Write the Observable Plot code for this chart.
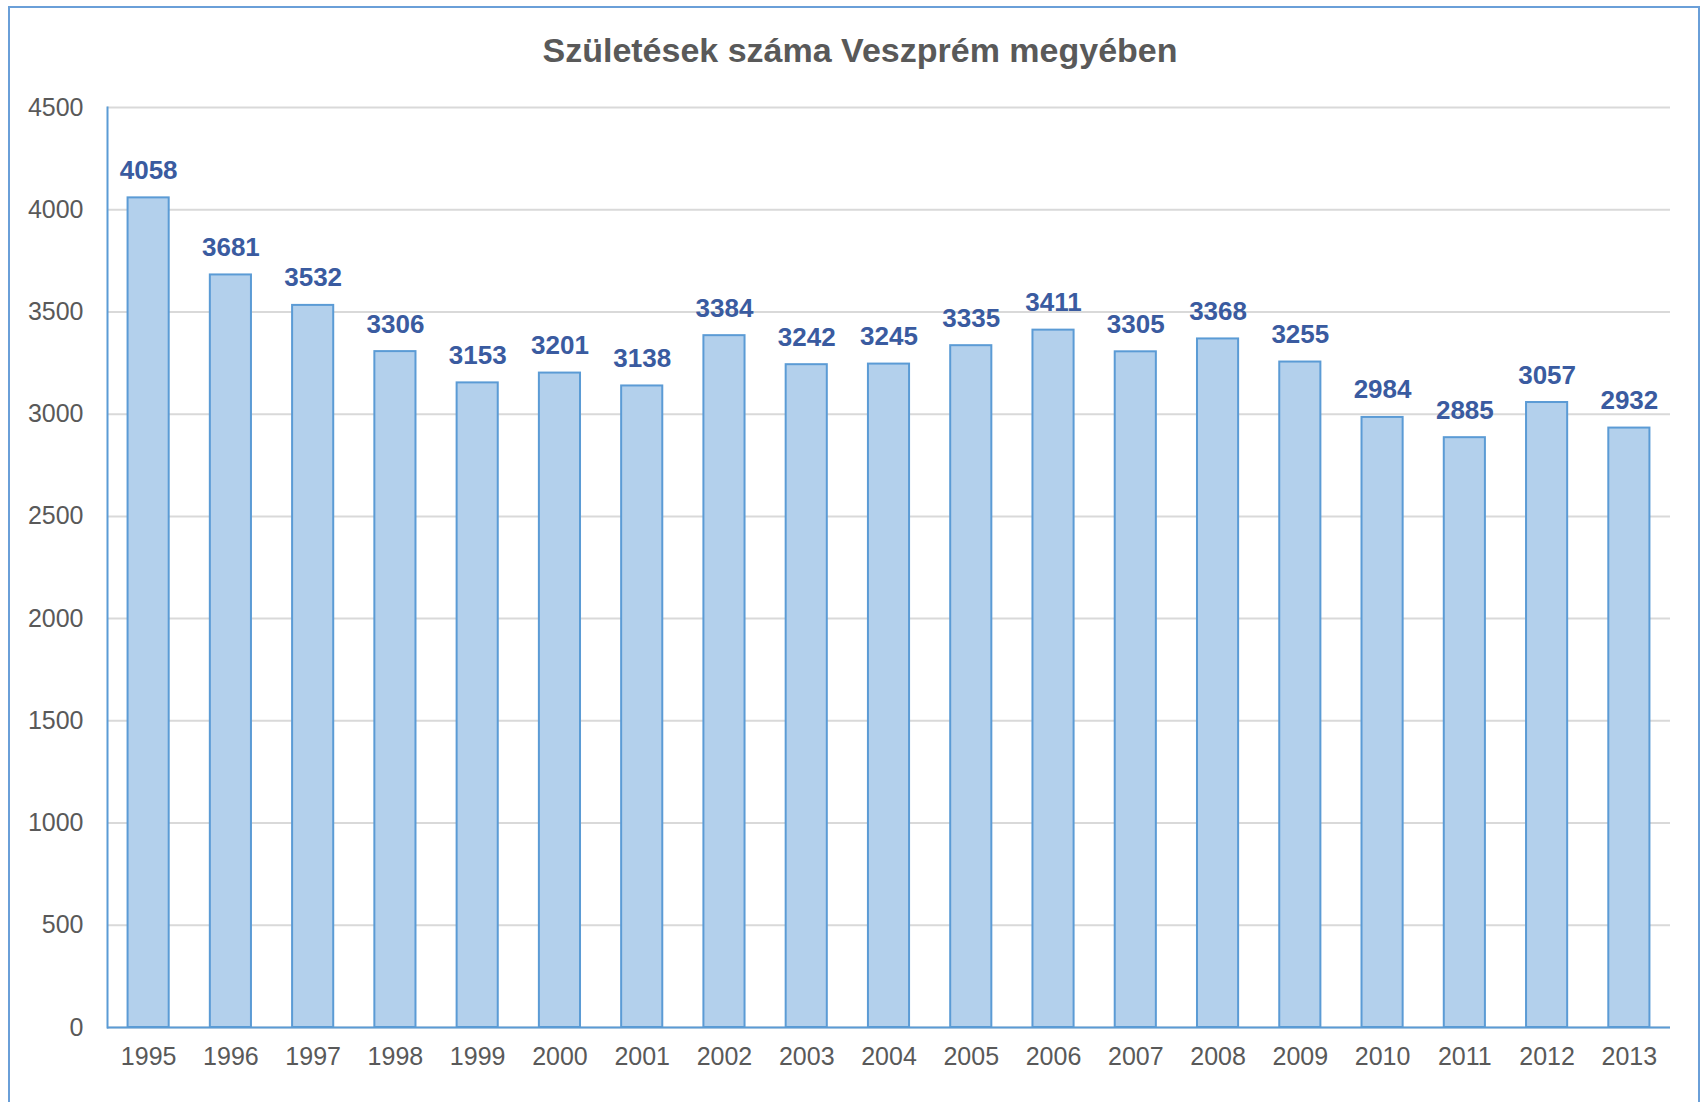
<!DOCTYPE html>
<html>
<head>
<meta charset="utf-8">
<script src="https://cdn.jsdelivr.net/npm/d3@7"></script>
<script src="https://cdn.jsdelivr.net/npm/@observablehq/plot@0.6"></script>
<style>
  html, body { margin: 0; padding: 0; background: #fff; overflow: hidden; width: 1704px; height: 1102px; }
  #frame { position: absolute; left: 8px; top: 6px; width: 1688px; height: 1120px; border: 2px solid #6A9FD8; box-sizing: content-box; }
  #title { position: absolute; left: 14px; width: 1692px; top: 30px; text-align: center;
           font-family: "Liberation Sans", Arial, sans-serif; font-weight: bold; font-size: 34px; color: #595959; line-height: 40px; }
  #chart { position: absolute; left: 0; top: 0; }
</style>
</head>
<body>
<div id="frame"></div>
<div id="title">Születések száma Veszprém megyében</div>
<div id="chart"></div>
<script>
const years = ["1995","1996","1997","1998","1999","2000","2001","2002","2003","2004","2005","2006","2007","2008","2009","2010","2011","2012","2013"];
const births = [4058,3681,3532,3306,3153,3201,3138,3384,3242,3245,3335,3411,3305,3368,3255,2984,2885,3057,2932];
const yTicks = [0,500,1000,1500,2000,2500,3000,3500,4000,4500];

const data = years.map((y, i) => ({year: y, value: births[i]}));

const chart = Plot.plot({
  width: 1704,
  height: 1102,
  marginLeft: 107,
  marginRight: 34,
  marginTop: 107,
  marginBottom: 75,
  style: {fontFamily: "'Liberation Sans', Arial, sans-serif", fontSize: "25px", color: "#595959", background: "transparent"},
  x: {domain: years, paddingInner: 0.5, paddingOuter: 0.25, round: false, label: null},
  y: {domain: [0, 4500], label: null},
  marks: [
    Plot.gridY(yTicks, {stroke: "#D9D9D9", strokeOpacity: 1, strokeWidth: 2}),
    Plot.axisY(yTicks, {tickSize: 0, tickPadding: 24, label: null, fontSize: 25, fill: "#595959", tickFormat: d => String(d)}),
    Plot.axisX({tickSize: 0, tickPadding: 20, label: null, fontSize: 25, fill: "#595959"}),
    Plot.barY(data, {x: "year", y: "value", fill: "#B3D0EC", stroke: "#5B9BD5", strokeWidth: 2}),
    Plot.frame({anchor: "left", stroke: "#5B9BD5", strokeWidth: 2}),
    Plot.ruleY([0], {stroke: "#5B9BD5", strokeWidth: 2}),
    Plot.text(data, {x: "year", y: "value", text: d => String(d.value), lineAnchor: "bottom", dy: -19,
      fontSize: 26, fontWeight: "bold", fill: "#3A5BA0"})
  ]
});
document.getElementById("chart").appendChild(chart);
</script>
</body>
</html>
